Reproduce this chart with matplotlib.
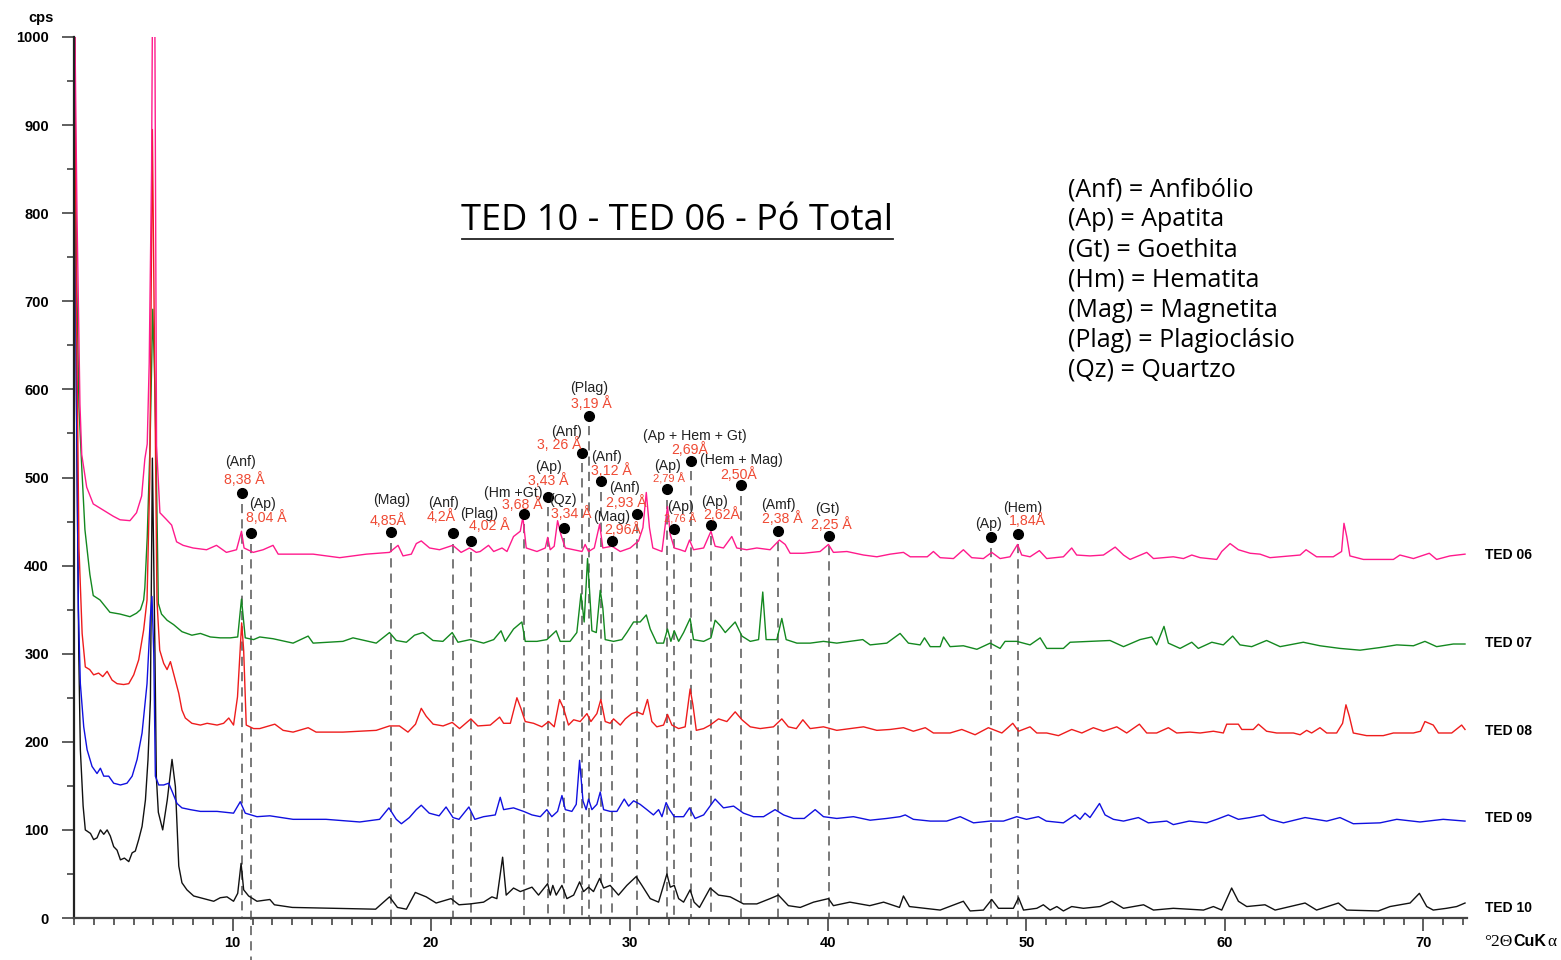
import numpy as np
import matplotlib
matplotlib.use('Agg')
import matplotlib.pyplot as plt
from matplotlib.ticker import MultipleLocator
from matplotlib.lines import Line2D

# diffractograms, (2theta, cps)
TED10 = [(2.0, 1100), (2.12, 600), (2.24, 300), (2.32, 191), (2.46, 127), (2.57, 100), (2.83, 96), (2.99, 89),
         (3.16, 91), (3.33, 100), (3.5, 95), (3.67, 100), (3.83, 93), (4.0, 81), (4.17, 77), (4.34, 66),
         (4.54, 68), (4.76, 64), (4.93, 74), (5.09, 76), (5.26, 89), (5.43, 104), (5.6, 134), (5.73, 180),
         (5.85, 248), (5.95, 522), (6.08, 300), (6.15, 160), (6.25, 120), (6.47, 100), (6.7, 134), (6.94, 180),
         (7.11, 149), (7.28, 59), (7.44, 40), (7.69, 32), (8.03, 25), (8.36, 23), (9.04, 19), (9.37, 23),
         (9.71, 24), (10.04, 19), (10.25, 28), (10.42, 62), (10.55, 32), (10.8, 25), (11.22, 19), (11.87, 21),
         (12.1, 15), (13.0, 12), (15.0, 11), (17.2, 10), (17.9, 24), (18.3, 12), (18.75, 10), (19.2, 29),
         (19.75, 24), (20.25, 17), (21.0, 22), (21.4, 15), (21.97, 16), (22.64, 18), (23.06, 24), (23.31, 22),
         (23.6, 69), (23.78, 26), (24.15, 34), (24.49, 30), (25.08, 35), (25.41, 26), (25.87, 39), (26.0, 26),
         (26.13, 37), (26.3, 26), (26.59, 37), (26.84, 22), (27.18, 26), (27.48, 41), (27.68, 30), (27.93, 35),
         (28.18, 30), (28.49, 45), (28.69, 34), (29.02, 37), (29.44, 26), (29.86, 37), (30.33, 47), (30.62, 37),
         (31.04, 22), (31.46, 18), (31.88, 50), (32.05, 35), (32.25, 37), (32.47, 22), (32.72, 18), (33.05, 32),
         (33.25, 18), (33.52, 12), (34.06, 34), (34.48, 26), (35.07, 24), (35.74, 16), (36.41, 16), (37.08, 22),
         (37.5, 26), (38.0, 14), (38.6, 12), (39.27, 18), (40.02, 22), (40.27, 14), (41.1, 18), (42.1, 14),
         (42.8, 18), (43.6, 12), (43.8, 25), (44.1, 13), (45.65, 9), (46.82, 19), (47.16, 8), (47.83, 9),
         (48.25, 21), (48.59, 11), (49.34, 11), (49.6, 23), (49.85, 9), (50.52, 11), (50.85, 15), (51.19, 9),
         (51.53, 13), (51.86, 8), (52.28, 13), (52.87, 11), (53.71, 13), (54.3, 19), (54.89, 11), (55.9, 15),
         (56.4, 9), (57.4, 11), (58.92, 9), (59.42, 13), (59.84, 9), (60.34, 34), (60.68, 19), (61.1, 13),
         (62.02, 15), (62.53, 9), (63.28, 13), (64.04, 17), (64.62, 9), (65.72, 17), (66.14, 9), (67.73, 8),
         (68.32, 13), (69.33, 17), (69.8, 28), (70.17, 13), (70.5, 9), (71.17, 11), (71.68, 13), (72.1, 17)]

TED09 = [(2.0, 1100), (2.12, 600), (2.22, 350), (2.32, 266), (2.49, 217), (2.66, 191), (2.91, 172), (3.16, 164),
         (3.33, 170), (3.5, 161), (3.75, 161), (4.0, 153), (4.34, 151), (4.67, 153), (4.93, 161), (5.18, 180),
         (5.43, 210), (5.68, 266), (5.85, 342), (5.93, 365), (6.02, 300), (6.1, 161), (6.27, 151), (6.52, 151),
         (6.77, 153), (6.94, 144), (7.19, 130), (7.44, 125), (7.86, 123), (8.37, 121), (9.21, 121), (10.04, 119),
         (10.38, 132), (10.63, 119), (11.22, 115), (11.87, 116), (13.04, 112), (14.7, 112), (16.4, 109),
         (17.4, 112), (17.87, 125), (18.24, 112), (18.5, 107), (18.9, 114), (19.25, 123), (19.5, 128),
         (19.9, 119), (20.4, 116), (20.75, 126), (21.1, 114), (21.4, 112), (21.9, 126), (22.2, 112),
         (22.64, 115), (23.23, 117), (23.48, 137), (23.65, 123), (24.15, 125), (24.66, 121), (25.08, 117),
         (25.5, 115), (25.83, 123), (26.08, 115), (26.37, 121), (26.59, 139), (26.76, 123), (27.09, 121),
         (27.31, 129), (27.48, 179), (27.65, 133), (27.81, 123), (27.93, 135), (28.1, 123), (28.35, 129),
         (28.52, 143), (28.69, 123), (29.02, 121), (29.36, 121), (29.73, 135), (29.95, 127), (30.2, 133),
         (30.53, 129), (30.87, 123), (31.2, 117), (31.46, 123), (31.63, 115), (31.84, 131), (32.01, 123),
         (32.25, 115), (32.72, 115), (33.02, 125), (33.3, 113), (33.73, 117), (34.31, 135), (34.73, 125),
         (35.24, 127), (35.74, 119), (36.24, 115), (36.75, 115), (37.33, 123), (37.76, 117), (38.26, 113),
         (38.8, 113), (39.35, 123), (39.77, 115), (40.44, 113), (41.28, 115), (42.12, 111), (42.96, 113),
         (43.63, 115), (43.89, 117), (44.3, 112), (45.15, 110), (45.98, 110), (46.66, 115), (47.33, 108),
         (48.17, 110), (48.84, 110), (49.51, 115), (50.0, 112), (50.6, 115), (51.0, 110), (51.86, 108),
         (52.45, 117), (52.7, 112), (52.95, 119), (53.2, 114), (53.68, 130), (53.96, 117), (54.38, 112),
         (54.89, 110), (55.64, 114), (56.14, 108), (57.07, 110), (57.4, 106), (58.2, 110), (59.08, 108),
         (59.59, 112), (60.17, 117), (60.68, 112), (61.27, 114), (61.94, 117), (62.27, 112), (62.95, 108),
         (64.04, 114), (65.13, 110), (65.8, 114), (66.47, 107), (67.82, 108), (68.66, 112), (69.83, 109),
         (71.0, 112), (72.1, 110)]

TED08 = [(2.0, 1100), (2.12, 700), (2.25, 420), (2.41, 323), (2.57, 285), (2.79, 282), (2.99, 276), (3.24, 278),
         (3.45, 274), (3.67, 280), (3.92, 270), (4.17, 266), (4.5, 265), (4.76, 266), (5.01, 276), (5.26, 293),
         (5.51, 327), (5.68, 361), (5.82, 500), (5.95, 895), (6.08, 600), (6.18, 361), (6.32, 304), (6.52, 289),
         (6.69, 282), (6.86, 291), (7.06, 274), (7.28, 255), (7.44, 236), (7.61, 227), (7.94, 221), (8.37, 219),
         (8.71, 221), (9.21, 219), (9.54, 221), (9.8, 227), (10.04, 219), (10.24, 251), (10.45, 335),
         (10.55, 304), (10.68, 219), (11.05, 215), (11.36, 215), (12.12, 220), (12.54, 213), (13.04, 211),
         (13.8, 216), (14.2, 211), (15.55, 211), (17.23, 213), (17.9, 218), (18.4, 218), (18.83, 211),
         (19.21, 220), (19.5, 238), (19.75, 229), (20.1, 220), (20.6, 218), (21.06, 222), (21.43, 215),
         (22.0, 226), (22.35, 218), (22.98, 219), (23.45, 228), (23.65, 221), (23.99, 221), (24.32, 250),
         (24.52, 238), (24.74, 223), (25.16, 221), (25.58, 217), (25.92, 223), (26.2, 217), (26.47, 248),
         (26.67, 238), (26.92, 219), (27.18, 225), (27.51, 223), (27.85, 232), (28.05, 223), (28.35, 232),
         (28.55, 248), (28.77, 223), (29.02, 221), (29.19, 226), (29.53, 219), (29.78, 226), (30.11, 232),
         (30.37, 234), (30.67, 231), (30.9, 248), (31.12, 223), (31.37, 217), (31.71, 219), (31.91, 231),
         (32.13, 219), (32.47, 215), (32.8, 217), (33.05, 260), (33.19, 242), (33.36, 213), (33.73, 215),
         (34.06, 219), (34.48, 226), (34.9, 223), (35.32, 234), (35.66, 225), (36.08, 217), (36.58, 215),
         (37.25, 217), (37.67, 226), (38.0, 217), (38.4, 215), (38.73, 225), (39.1, 215), (39.77, 217),
         (40.44, 213), (41.11, 215), (41.79, 217), (42.46, 213), (43.13, 214), (43.8, 216), (44.3, 212),
         (44.9, 216), (45.31, 210), (46.15, 210), (46.74, 214), (47.41, 208), (48.08, 216), (48.76, 210),
         (49.31, 221), (49.6, 212), (50.18, 217), (50.52, 210), (51.02, 210), (51.61, 207), (52.28, 214),
         (52.79, 210), (53.37, 216), (53.88, 212), (54.55, 217), (55.05, 210), (55.69, 220), (56.06, 210),
         (56.56, 210), (57.15, 216), (57.57, 210), (58.24, 211), (58.75, 210), (59.42, 212), (59.92, 210),
         (60.09, 220), (60.68, 220), (60.85, 214), (61.43, 214), (61.69, 220), (62.1, 212), (62.61, 210),
         (63.45, 210), (63.79, 208), (64.12, 213), (64.37, 210), (64.79, 216), (65.13, 210), (65.63, 210),
         (65.93, 221), (66.1, 242), (66.27, 229), (66.47, 210), (67.14, 207), (67.98, 207), (68.49, 210),
         (69.5, 210), (69.86, 212), (70.08, 223), (70.5, 219), (70.76, 210), (71.43, 210), (71.93, 219),
         (72.1, 214)]

TED07 = [(2.0, 1100), (2.12, 750), (2.25, 580), (2.39, 512), (2.55, 441), (2.8, 390), (2.97, 366), (3.31, 361),
         (3.81, 347), (4.32, 345), (4.82, 342), (5.15, 346), (5.35, 350), (5.51, 361), (5.57, 375), (5.69, 432),
         (5.83, 536), (5.97, 691), (6.08, 600), (6.13, 536), (6.25, 357), (6.41, 345), (6.69, 338), (7.02, 333),
         (7.44, 325), (7.94, 321), (8.37, 323), (8.87, 319), (9.37, 318), (9.88, 318), (10.25, 319),
         (10.44, 362), (10.63, 318), (11.05, 316), (11.36, 319), (12.03, 317), (13.04, 312), (13.8, 320),
         (14.05, 312), (15.55, 314), (16.06, 318), (17.23, 312), (17.9, 324), (18.24, 315), (18.75, 313),
         (19.16, 321), (19.58, 324), (20.09, 315), (20.59, 314), (21.06, 324), (21.35, 313), (21.97, 316),
         (22.64, 312), (23.15, 316), (23.52, 326), (23.73, 314), (24.15, 328), (24.57, 336), (24.74, 314),
         (25.33, 314), (25.83, 316), (26.3, 326), (26.5, 314), (27.0, 314), (27.34, 324), (27.55, 368),
         (27.71, 336), (27.88, 408), (27.98, 372), (28.1, 326), (28.32, 324), (28.52, 372), (28.65, 352),
         (28.77, 316), (29.19, 314), (29.61, 316), (29.86, 324), (30.2, 336), (30.53, 336), (30.84, 344),
         (31.04, 328), (31.37, 312), (31.71, 312), (31.91, 328), (32.08, 314), (32.25, 326), (32.47, 314),
         (32.72, 324), (33.05, 340), (33.22, 316), (33.73, 314), (34.1, 318), (34.31, 338), (34.56, 332),
         (34.82, 324), (35.32, 336), (35.66, 320), (36.08, 314), (36.5, 316), (36.71, 370), (36.88, 316),
         (37.42, 316), (37.67, 340), (37.89, 316), (38.43, 312), (39.1, 312), (39.77, 314), (40.44, 312),
         (41.11, 314), (41.75, 316), (42.12, 310), (42.96, 312), (43.63, 323), (44.05, 312), (44.64, 310),
         (44.86, 318), (45.15, 308), (45.65, 308), (45.82, 319), (46.15, 308), (46.82, 309), (47.5, 305),
         (48.17, 312), (48.67, 306), (48.92, 314), (49.51, 314), (50.18, 310), (50.69, 318), (51.02, 306),
         (51.86, 306), (52.2, 313), (53.2, 314), (54.21, 315), (54.89, 308), (55.72, 316), (56.31, 319),
         (56.56, 310), (56.93, 331), (57.15, 312), (57.74, 306), (58.33, 313), (58.66, 306), (59.34, 313),
         (59.92, 310), (60.39, 320), (60.76, 310), (61.35, 308), (62.1, 315), (62.78, 308), (63.95, 313),
         (64.79, 309), (65.8, 306), (66.81, 304), (67.82, 307), (68.66, 310), (69.5, 309), (70.08, 314),
         (70.67, 308), (71.51, 311), (72.1, 311)]

TED06 = [(2.0, 1100), (2.15, 800), (2.3, 583), (2.39, 526), (2.64, 489), (2.97, 470), (3.48, 463), (3.98, 456),
         (4.32, 452), (4.82, 451), (5.15, 460), (5.41, 479), (5.57, 521), (5.69, 538), (5.79, 630), (5.91, 850),
         (5.97, 1100), (6.06, 1100), (6.16, 536), (6.33, 460), (6.63, 453), (6.92, 446), (7.17, 427), (7.5, 423),
         (8.0, 420), (8.68, 418), (9.18, 423), (9.68, 415), (10.19, 418), (10.44, 439), (10.57, 420),
         (11.03, 415), (11.53, 418), (12.03, 423), (12.29, 413), (13.04, 413), (14.05, 413), (15.39, 409),
         (16.73, 413), (17.9, 415), (18.33, 423), (18.58, 411), (19.0, 413), (19.25, 425), (19.5, 428),
         (19.92, 420), (20.42, 418), (21.09, 423), (21.51, 415), (21.93, 420), (22.27, 415), (22.47, 416),
         (22.89, 423), (23.15, 416), (23.57, 420), (23.82, 416), (24.15, 433), (24.49, 439), (24.62, 455),
         (24.79, 420), (25.33, 416), (25.75, 420), (25.87, 432), (26.0, 418), (26.2, 422), (26.37, 451),
         (26.54, 435), (26.76, 420), (27.18, 418), (27.6, 416), (27.76, 424), (27.93, 416), (28.22, 420),
         (28.49, 447), (28.65, 420), (29.11, 422), (29.53, 416), (30.03, 420), (30.45, 428), (30.67, 443),
         (30.84, 483), (31.0, 443), (31.17, 420), (31.63, 416), (31.91, 467), (32.05, 435), (32.25, 420),
         (32.55, 418), (32.8, 416), (33.02, 429), (33.22, 418), (33.73, 420), (34.1, 439), (34.31, 422),
         (34.73, 420), (35.15, 433), (35.4, 420), (35.9, 418), (36.41, 420), (37.08, 418), (37.55, 429),
         (37.84, 424), (38.09, 414), (38.76, 414), (39.6, 416), (40.02, 424), (40.27, 415), (40.95, 416),
         (41.79, 412), (42.46, 410), (43.13, 413), (43.8, 415), (44.14, 410), (45.0, 410), (45.31, 416),
         (45.65, 409), (46.32, 408), (46.82, 418), (47.24, 409), (47.83, 408), (48.25, 415), (48.67, 408),
         (49.17, 410), (49.55, 424), (49.76, 412), (50.18, 410), (50.65, 417), (51.02, 408), (51.86, 410),
         (52.28, 420), (52.53, 412), (53.2, 411), (53.88, 412), (54.47, 421), (54.89, 412), (55.22, 407),
         (56.06, 415), (56.4, 408), (57.4, 410), (57.91, 408), (58.33, 412), (58.75, 409), (59.59, 407),
         (59.84, 416), (60.26, 425), (60.68, 418), (61.27, 414), (61.77, 413), (62.27, 409), (63.28, 411),
         (63.79, 412), (64.09, 418), (64.62, 410), (65.46, 410), (65.88, 416), (66.0, 448), (66.14, 433),
         (66.3, 411), (66.98, 407), (67.82, 407), (68.49, 407), (68.82, 412), (69.5, 408), (70.3, 414),
         (70.67, 407), (71.34, 411), (72.1, 413)]

SAMPLE_NAMES = ['TED 10', 'TED 09', 'TED 07', 'TED 08', 'TED 06']
SAMPLE_DATA = [TED10, TED09, TED07, TED08, TED06]
SAMPLE_COLORS = ['#111111', '#1010e0', '#13881f', '#ee1c1c', '#ff1a8c']
SAMPLE_LABEL_Y = [11, 113, 312, 212, 412]

# identified reflections
PEAK_2THETA = [10.48, 10.91, 17.96, 21.08, 22.02, 24.66, 25.91, 26.68, 27.61, 27.96, 28.57,
               29.12, 30.36, 31.89, 32.22, 33.10, 34.09, 35.62, 37.49, 40.03, 48.22, 49.58]
PEAK_CPS = [482, 437, 438, 437, 428, 459, 478, 443, 528, 570, 496,
            428, 459, 487, 442, 519, 446, 491, 439, 434, 432, 436]
PEAK_PHASE = ['(Anf)', '(Ap)', '(Mag)', '(Anf)', '(Plag)', '(Hm +Gt)', '(Ap)', '(Qz)', '(Anf)', '(Plag)', '(Anf)',
              '(Mag)', '(Anf)', '(Ap)', '(Ap)', '(Ap + Hem + Gt)', '(Ap)', '(Hem + Mag)', '(Amf)', '(Gt)', '(Ap)',
              '(Hem)']
PEAK_D = ['8,38 Å', '8,04 Å', '4,85Å', '4,2Å', '4,02 Å', '3,68 Å', '3,43 Å', '3,34 Å', '3, 26 Å', '3,19 Å',
          '3,12 Å', '2,96Å', '2,93 Å', '2,79 Å', '2,76 Å', '2,69Å', '2,62Å', '2,50Å', '2,38 Å', '2,25 Å', '',
          '1,84Å']

# label placement, pixels from the dot (x right, y down): phase label, d label
PHASE_OFFSET = [(-2, -31), (12, -29), (1, -32), (-9, -30), (8, -27), (-10, -21), (0, -30), (-1, -28),
                (-16, -21), (0, -28), (5, -24), (-1, -24), (-12, -26), (0, -23), (7, -22), (4, -25),
                (4, -23), (0, -25), (0, -26), (-1, -27), (-3, -13), (5, -26)]
D_OFFSET = [(2, -14), (16, -15), (-3, -12), (-11, -16), (18, -15), (-1, -9), (0, -16), (8, -14),
            (-23, -8), (2, -12), (10, -11), (11, -11), (-10, -11), (2, -10), (6, -10), (-1, -11),
            (11, -11), (-3, -11), (4, -13), (3, -11), (0, 0), (9, -13)]
SMALL_D = {13, 14}

LEGEND_LINES = ['(Anf) = Anfibólio', '(Ap) = Apatita', '(Gt) = Goethita', '(Hm) = Hematita',
                '(Mag) = Magnetita', '(Plag) = Plagioclásio', '(Qz) = Quartzo']

SANS = ['Liberation Sans', 'DejaVu Sans']
SERIF = ['Liberation Serif', 'DejaVu Serif']
HUMAN = ['Open Sans', 'DejaVu Sans']

fig = plt.figure(figsize=(15.61, 9.6), dpi=100)
ax = fig.add_axes([74 / 1561, 42 / 960, (1467 - 74) / 1561, 881 / 960])

# reference lines below the dots
for i, (x, y) in enumerate(zip(PEAK_2THETA, PEAK_CPS)):
    ybot = -48 if i == 1 else 0
    ax.plot([x, x], [y - 12, ybot], color='#555555', lw=1.1, ls=(0, (6, 4)), zorder=1, clip_on=False)

for name, data, col in zip(SAMPLE_NAMES, SAMPLE_DATA, SAMPLE_COLORS):
    arr = np.array(data)
    ax.plot(arr[:, 0], arr[:, 1], color=col, lw=1.0, zorder=2)

for name, ly in zip(SAMPLE_NAMES, SAMPLE_LABEL_Y):
    ax.text(73.1, ly, name, fontsize=10, fontweight='bold', family=SANS, va='center', ha='left')

ax.plot(PEAK_2THETA, PEAK_CPS, 'o', color='black', ms=7, zorder=5, clip_on=False)
for i in range(len(PEAK_2THETA)):
    xy = (PEAK_2THETA[i], PEAK_CPS[i])
    dx, dy = PHASE_OFFSET[i]
    ax.annotate(PEAK_PHASE[i], xy=xy, xytext=(dx, -dy), textcoords='offset pixels', ha='center',
                va='center', fontsize=10.2, family=SANS, color='#222222', zorder=6)
    if PEAK_D[i]:
        dx, dy = D_OFFSET[i]
        fs = 8 if i in SMALL_D else 10.2
        ax.annotate(PEAK_D[i], xy=xy, xytext=(dx, -dy), textcoords='offset pixels', ha='center',
                    va='center', fontsize=fs, family=SANS, color='#ef4a34', zorder=6)

ax.set_xlim(2, 72.2)
ax.set_ylim(0, 1000)
ax.xaxis.set_major_locator(MultipleLocator(10))
ax.xaxis.set_minor_locator(MultipleLocator(1))
ax.yaxis.set_major_locator(MultipleLocator(100))
ax.yaxis.set_minor_locator(MultipleLocator(50))
ax.tick_params(axis='y', which='major', direction='out', length=9, width=1.2, pad=9, colors='#444444',
               labelcolor='black', labelsize=10.5)
ax.tick_params(axis='y', which='minor', direction='out', length=5, width=1.2, colors='#444444')
ax.tick_params(axis='x', which='major', direction='out', length=9, width=1.2, pad=4, colors='#444444',
               labelcolor='black', labelsize=10.5)
ax.tick_params(axis='x', which='minor', direction='out', length=5, width=1.2, colors='#444444')
ax.set_xticks([10, 20, 30, 40, 50, 60, 70])
for lab in ax.get_xticklabels() + ax.get_yticklabels():
    lab.set_fontweight('bold')
    lab.set_family(SANS)
for s in ['top', 'right']:
    ax.spines[s].set_visible(False)
ax.spines['left'].set_linewidth(1.6)
ax.spines['left'].set_color('#222222')
ax.spines['bottom'].set_linewidth(1.6)
ax.spines['bottom'].set_color('#444444')

fig.text(41 / 1561, 1 - 18 / 960, 'cps', ha='center', va='center', fontsize=10.5, fontweight='bold', family=SANS)

# axis title at the right end
fig.text(1484 / 1561, 1 - 942 / 960, '°2Θ', ha='left', va='center', fontsize=12.5, family=SERIF)
fig.text(1513 / 1561, 1 - 942 / 960, 'CuK', ha='left', va='center', fontsize=11.5, fontweight='bold', family=SANS)
fig.text(1547 / 1561, 1 - 942 / 960, 'α', ha='left', va='center', fontsize=12.5, family=SERIF)

# chart title, underlined
fig.text(677 / 1561, 1 - 230 / 960, 'TED 10 - TED 06 - Pó Total', ha='center', va='baseline', fontsize=26,
         family=HUMAN)
fig.add_artist(Line2D([462 / 1561, 893 / 1561], [1 - 239 / 960, 1 - 239 / 960], color='#222222', lw=1.3))

for i, line in enumerate(LEGEND_LINES):
    fig.text(1068 / 1561, 1 - (190 + 30 * i) / 960, line, ha='left', va='center', fontsize=18, family=HUMAN)

fig.savefig('out.png', dpi=100)
